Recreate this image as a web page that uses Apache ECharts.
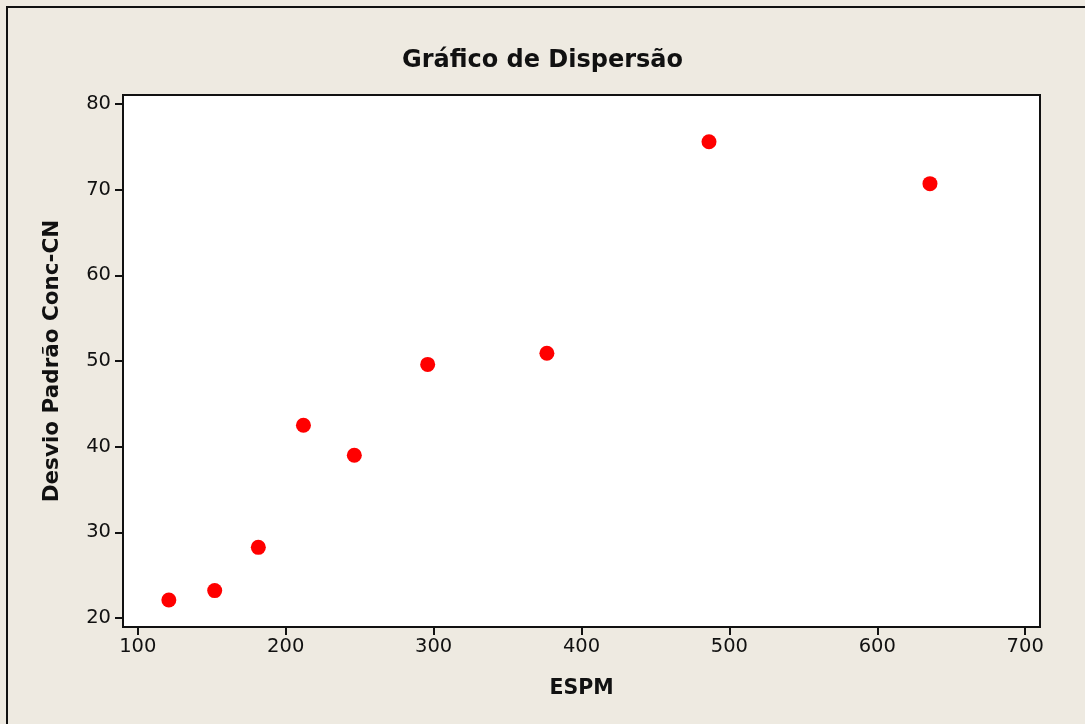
<!DOCTYPE html>
<html>
<head>
<meta charset="utf-8">
<script src="https://cdn.jsdelivr.net/npm/echarts@6/dist/echarts.min.js"></script>
<style>
  html, body { margin: 0; padding: 0; background: #EEEAE1; }
  #chart { width: 1085px; height: 724px; position: absolute; left: 0; top: 0; }
  #frame { position: absolute; left: 6px; top: 6px; width: 1100px; height: 800px;
           border-left: 2px solid #111; border-top: 2px solid #111; pointer-events: none; }
</style>
</head>
<body>
<div id="chart"></div>
<div id="frame"></div>
<script>
const espm = [121, 152, 181.5, 212, 246.4, 296, 376.6, 486.2, 635.6];
const desvio = [22.1, 23.2, 28.25, 42.5, 39.0, 49.6, 50.9, 75.6, 70.7];
const xTicks = [100, 200, 300, 400, 500, 600, 700];
const yTicks = [20, 30, 40, 50, 60, 70, 80];
const titleText = 'Gráfico de Dispersão';
const xName = 'ESPM';
const yName = 'Desvio Padrão Conc-CN';

const font = 'DejaVu Sans';
const chart = echarts.init(document.getElementById('chart'), null, { renderer: 'canvas' });
chart.setOption({
  backgroundColor: 'transparent',
  animation: false,
  title: {
    text: titleText, left: 'center', top: 44,
    textStyle: { fontFamily: font, fontSize: 24, fontWeight: 'bold', color: '#111' }
  },
  grid: {
    left: 123, top: 95, width: 917, height: 532,
    show: true, backgroundColor: '#fff', borderColor: '#111', borderWidth: 2
  },
  xAxis: {
    type: 'value', min: 90, max: 710,
    name: xName, nameLocation: 'middle', nameGap: 51,
    nameTextStyle: { fontFamily: font, fontSize: 20.5, fontWeight: 'bold', color: '#111' },
    axisLine: { show: true, lineStyle: { color: '#111', width: 2 } },
    axisTick: { show: true, length: 8, lineStyle: { color: '#111', width: 2 }, customValues: xTicks },
    axisLabel: { customValues: xTicks, margin: 10, fontFamily: font, fontSize: 19.5, color: '#111' },
    splitLine: { show: false }
  },
  yAxis: {
    type: 'value', min: 18.95, max: 81.05,
    name: yName, nameLocation: 'middle', nameGap: 60, nameRotate: 90,
    nameTextStyle: { fontFamily: font, fontSize: 21.5, fontWeight: 'bold', color: '#111' },
    axisLine: { show: true, lineStyle: { color: '#111', width: 2 } },
    axisTick: { show: true, length: 8, lineStyle: { color: '#111', width: 2 }, customValues: yTicks },
    axisLabel: { customValues: yTicks, margin: 12, fontFamily: font, fontSize: 19.5, color: '#111' },
    splitLine: { show: false }
  },
  series: [{
    type: 'scatter',
    data: espm.map((x, i) => [x, desvio[i]]),
    symbol: 'circle', symbolSize: 15,
    itemStyle: { color: '#FF0000', opacity: 1 }
  }]
});
</script>
</body>
</html>
